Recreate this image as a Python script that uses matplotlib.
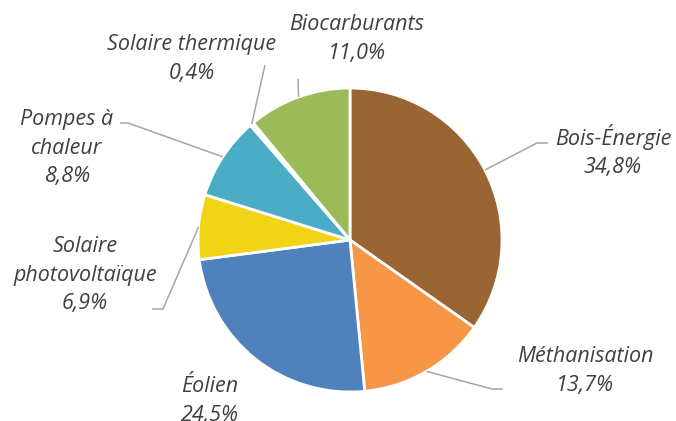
import matplotlib.pyplot as plt
import numpy as np

W, H = 676, 421

# Données (part de chaque filière, en %)
labels = ['Bois-Énergie', 'Méthanisation', 'Éolien', 'Solaire\nphotovoltaïque',
          'Pompes à\nchaleur', 'Solaire thermique', 'Biocarburants']
values = [34.8, 13.7, 24.5, 6.9, 8.8, 0.4, 11.0]
pct_text = ['34,8%', '13,7%', '24,5%', '6,9%', '8,8%', '0,4%', '11,0%']
colors = ['#996633', '#F79646', '#4F81BD', '#F0D415', '#4BACC6', '#F2F2F2', '#9BBB59']

# Position des étiquettes (pixels, origine en haut à gauche) et coudes des traits
label_pos = [(613, 151), (585, 371), (210, 401), (85, 275), (67, 148), (192, 59), (357, 39)]
leader = [
    [(548, 143), (537, 143)],
    [(503, 389), (492, 389)],
    None,
    [(152, 309), (163, 309)],
    [(120, 123), (128, 123)],
    [(265, 65)],
    [(298, 79)],
]

fig = plt.figure(figsize=(W / 100, H / 100), dpi=100)
ax = fig.add_axes([0, 0, 1, 1])

wedges, _ = ax.pie(values, colors=colors, startangle=90, counterclock=False,
                   center=(350, H - 240), radius=152, frame=True,
                   wedgeprops=dict(edgecolor='white', linewidth=2.0))
ax.set_xlim(0, W)
ax.set_ylim(0, H)
ax.axis('off')

for w, lab, pct, pos, pts in zip(wedges, labels, pct_text, label_pos, leader):
    ax.text(pos[0], H - pos[1], lab + '\n' + pct, ha='center', va='center',
            fontfamily='Open Sans', fontstyle='italic', fontsize=15.5,
            color='#404040', linespacing=1.45)
    if pts is None:
        continue
    # trait de rappel : du coude jusqu'au bord de la part (angle médian)
    mid = np.deg2rad((w.theta1 + w.theta2) / 2)
    cx, cy = w.center
    inner = (cx + w.r * np.cos(mid), cy + w.r * np.sin(mid))
    xs = [p[0] for p in pts] + [inner[0]]
    ys = [H - p[1] for p in pts] + [inner[1]]
    ax.plot(xs, ys, color='#A6A6A6', linewidth=1.1, solid_capstyle='butt')

fig.savefig('out.png', dpi=100)
